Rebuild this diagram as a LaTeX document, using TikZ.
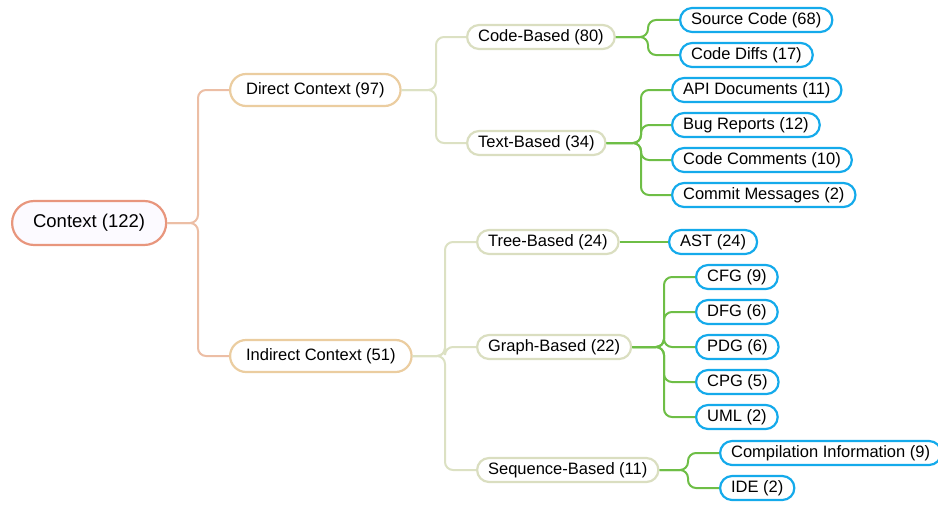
\documentclass[tikz,border=0pt]{standalone}
\usepackage{fontspec}
\setmainfont{Liberation Sans}
\definecolor{rootline}{RGB}{232,150,125}
\definecolor{rootfill}{RGB}{252,250,255}
\definecolor{midline}{RGB}{235,205,160}
\definecolor{subline}{RGB}{218,222,192}
\definecolor{leafline}{RGB}{20,170,235}
\definecolor{trunkcol}{RGB}{236,190,165}
\definecolor{branchcol}{RGB}{220,225,195}
\definecolor{twigcol}{RGB}{110,190,70}
\begin{document}
\begin{tikzpicture}[x=1pt,y=-1pt,
  box/.style={draw, fill=white, line width=2.2pt, anchor=west, inner xsep=11pt,
    inner ysep=0pt, minimum height=24pt, rounded corners=12pt,
    font=\fontsize{16.5}{18}\selectfont},
  rootbox/.style={box, draw=rootline, fill=rootfill, minimum height=44pt,
    rounded corners=22pt, inner xsep=21pt, font=\fontsize{18.5}{20}\selectfont},
  midbox/.style={box, draw=midline, minimum height=32pt, rounded corners=16pt, inner xsep=16pt},
  subbox/.style={box, draw=subline},
  leafbox/.style={box, draw=leafline},
  trunk/.style={draw=trunkcol, line width=2pt, rounded corners=8pt},
  branch/.style={draw=branchcol, line width=2pt, rounded corners=8pt},
  twig/.style={draw=twigcol, line width=2pt, rounded corners=8pt}]
\useasboundingbox (0,-1) rectangle (938,505);

% root and first level
\node[rootbox] (ctx) at (11,222) {Context (122)};
\node[midbox] (direct) at (229,89) {Direct Context (97)};
\node[midbox] (indirect) at (229,355) {Indirect Context (51)};

% second level
\node[subbox] (code) at (466,36) {Code-Based (80)};
\node[subbox] (text) at (466,142) {Text-Based (34)};
\node[subbox] (tree) at (476,241) {Tree-Based (24)};
\node[subbox] (graph) at (476,346) {Graph-Based (22)};
\node[subbox] (seq) at (476,469) {Sequence-Based (11)};

% leaves
\node[leafbox] (src) at (679,19) {Source Code (68)};
\node[leafbox] (diff) at (679,54) {Code Diffs (17)};
\node[leafbox] (api) at (671,89) {API Documents (11)};
\node[leafbox] (bug) at (671,124) {Bug Reports (12)};
\node[leafbox] (cmt) at (671,159) {Code Comments (10)};
\node[leafbox] (msg) at (671,194) {Commit Messages (2)};
\node[leafbox] (ast) at (668,241) {AST (24)};
\node[leafbox] (cfg) at (695,276) {CFG (9)};
\node[leafbox] (dfg) at (695,311) {DFG (6)};
\node[leafbox] (pdg) at (695,346) {PDG (6)};
\node[leafbox] (cpg) at (695,381) {CPG (5)};
\node[leafbox] (uml) at (695,416) {UML (2)};
\node[leafbox] (comp) at (719,452) {Compilation Information (9)};
\node[leafbox] (ide) at (719,487) {IDE (2)};

% connectors
\foreach \c in {direct,indirect}
  \draw[trunk] (ctx.east) -- (198,222) |- (\c.west);
\foreach \c in {code,text}
  \draw[branch] (direct.east) -- (436,89) |- (\c.west);
\foreach \c in {tree,graph,seq}
  \draw[branch] (indirect.east) -- (445,355) |- (\c.west);
\foreach \c in {src,diff}
  \draw[twig] (code.east) -- (648,36) |- (\c.west);
\foreach \c in {api,bug,cmt,msg}
  \draw[twig] (text.east) -- (641,142) |- (\c.west);
\draw[twig] (tree.east) -- (ast.west);
\foreach \c in {cfg,dfg,pdg,cpg,uml}
  \draw[twig] (graph.east) -- (664,346) |- (\c.west);
\foreach \c in {comp,ide}
  \draw[twig] (seq.east) -- (688,469) |- (\c.west);
\end{tikzpicture}
\end{document}
